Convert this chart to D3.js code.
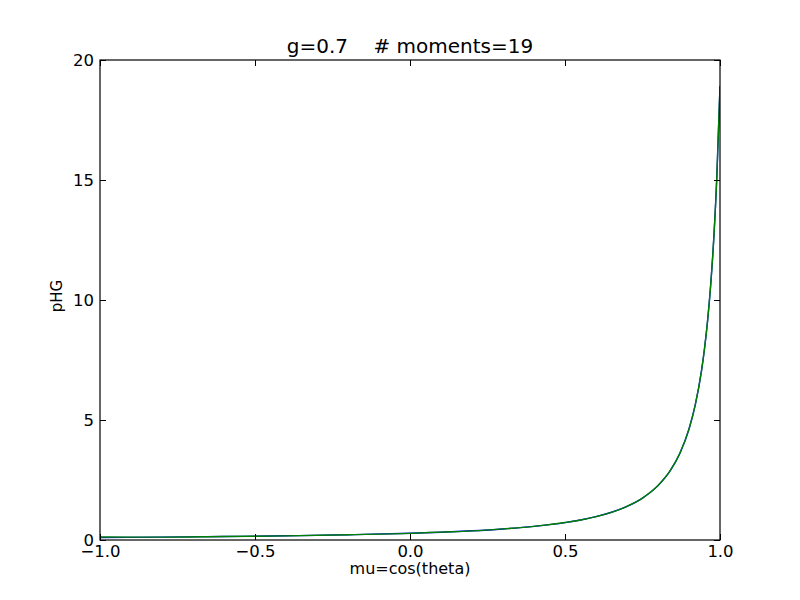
<!DOCTYPE html>
<html>
<head>
<meta charset="utf-8">
<script src="https://cdn.jsdelivr.net/npm/d3@7"></script>
<style>
  body { margin: 0; background: #fff; }
  text { font-family: "DejaVu Sans", sans-serif; }
</style>
</head>
<body>
<svg id="chart"></svg>
<script>
// Chart size
const width = 800;
const height = 600;

// Values
const mu = [-1.0, -0.8, -0.6, -0.4, -0.2, 0.0, 0.1, 0.2, 0.3, 0.4, 0.5, 0.55, 0.6, 0.65,
            0.7, 0.75, 0.8, 0.84, 0.87, 0.9, 0.92, 0.94, 0.95, 0.96, 0.97, 0.98, 0.99, 1.0];
// exact phase function (blue)
const pExact = [0.104, 0.121, 0.143, 0.174, 0.217, 0.280, 0.325, 0.383, 0.461, 0.569, 0.726, 0.835, 0.973, 1.155,
                1.400, 1.747, 2.266, 2.899, 3.595, 4.624, 5.617, 7.027, 7.969, 9.142, 10.634, 12.583, 15.206, 18.89];
// moment expansion (green)
const pMoments = [0.125, 0.118, 0.146, 0.171, 0.220, 0.277, 0.328, 0.380, 0.464, 0.566, 0.729, 0.832, 0.976, 1.152,
                  1.403, 1.744, 2.269, 2.896, 3.598, 4.621, 5.620, 7.024, 7.972, 9.139, 10.637, 12.580, 15.209, 18.93];

const xTicks = [-1.0, -0.5, 0.0, 0.5, 1.0];
const yTicks = [0, 5, 10, 15, 20];

const margin = {left: 100, right: 80, top: 60, bottom: 60};

const svg = d3.select("#chart")
    .attr("width", width)
    .attr("height", height);

const xScale = d3.scaleLinear()
    .domain([-1, 1])
    .range([margin.left, width - margin.right]);

const yScale = d3.scaleLinear()
    .domain([0, 20])
    .range([height - margin.bottom, margin.top]);

const fmtX = d => d3.format(".1f")(d).replace("-", "\u2212");

// clip for the lines
svg.append("clipPath").attr("id", "clip")
  .append("rect")
    .attr("x", margin.left).attr("y", margin.top)
    .attr("width", width - margin.left - margin.right)
    .attr("height", height - margin.top - margin.bottom);

const line = (vals) => d3.line()
    .curve(d3.curveMonotoneX)
    .x((d, i) => xScale(mu[i]))
    .y(d => yScale(d))(vals);

// Blue line
svg.append("path")
    .attr("clip-path", "url(#clip)")
    .attr("fill", "none")
    .attr("stroke", "#0000ff")
    .attr("stroke-width", 1.4)
    .attr("d", line(pExact));

// Green line
svg.append("path")
    .attr("clip-path", "url(#clip)")
    .attr("fill", "none")
    .attr("stroke", "#008000")
    .attr("stroke-width", 1.4)
    .attr("d", line(pMoments));

// Axes with inward ticks, all four sides
const tk = 6;
svg.append("g")
    .attr("transform", `translate(0, ${height - margin.bottom})`)
    .call(d3.axisBottom(xScale).tickValues(xTicks).tickSizeInner(-tk).tickSizeOuter(0).tickPadding(5).tickFormat(fmtX));
svg.append("g")
    .attr("transform", `translate(0, ${margin.top})`)
    .call(d3.axisTop(xScale).tickValues(xTicks).tickSizeInner(-tk).tickSizeOuter(0).tickFormat(""));
svg.append("g")
    .attr("transform", `translate(${margin.left}, 0)`)
    .call(d3.axisLeft(yScale).tickValues(yTicks).tickSizeInner(-tk).tickSizeOuter(0).tickPadding(6).tickFormat(d3.format("d")));
svg.append("g")
    .attr("transform", `translate(${width - margin.right}, 0)`)
    .call(d3.axisRight(yScale).tickValues(yTicks).tickSizeInner(-tk).tickSizeOuter(0).tickFormat(""));

svg.selectAll(".domain").remove();
svg.selectAll(".tick line").attr("stroke", "#000");
svg.selectAll(".tick text")
    .attr("font-size", 16.5)
    .attr("fill", "#000")
    .style("font-family", "DejaVu Sans");

// frame
svg.append("rect")
    .attr("x", margin.left).attr("y", margin.top)
    .attr("width", width - margin.left - margin.right)
    .attr("height", height - margin.top - margin.bottom)
    .attr("fill", "none")
    .attr("stroke", "#000")
    .attr("stroke-width", 1.2);

// Labels
svg.append("text")
    .attr("x", (margin.left + width - margin.right) / 2)
    .attr("y", 574)
    .attr("text-anchor", "middle")
    .attr("font-size", 16)
    .text("mu=cos(theta)");

svg.append("text")
    .attr("transform", `translate(62, 296) rotate(-90)`)
    .attr("text-anchor", "middle")
    .attr("font-size", 15)
    .text("pHG");

svg.append("text")
    .attr("x", (margin.left + width - margin.right) / 2)
    .attr("y", 53)
    .attr("text-anchor", "middle")
    .attr("font-size", 20)
    .attr("xml:space", "preserve")
    .style("white-space", "pre")
    .text("g=0.7    # moments=19");
</script>
</body>
</html>
